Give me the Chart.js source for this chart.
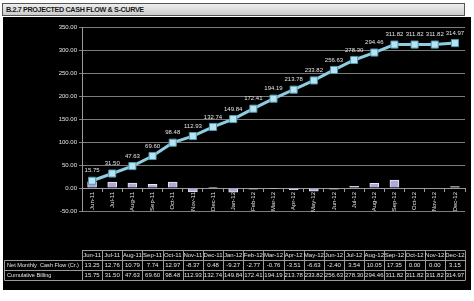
<!DOCTYPE html>
<html>
<head>
<meta charset="utf-8">
<script src="https://cdn.jsdelivr.net/npm/chart.js@4.4.0/dist/chart.umd.min.js"></script>
<style>
  html, body { margin: 0; padding: 0; background: #fff; width: 474px; height: 301px; overflow: hidden; }
  #title {
    position: absolute; left: 2px; top: 3px; width: 458px; height: 11px;
    border: 1px solid #555; background: linear-gradient(#eeeeee, #cccccc);
    font: bold 7.2px "Liberation Sans", Arial, sans-serif; color: #1a1a1a;
    line-height: 11px; padding-left: 3px; letter-spacing: -0.35px;
  }
  #wrap { position: absolute; left: 3px; top: 17px; width: 468px; height: 273px; background: #000; }
</style>
</head>
<body>
<div id="title">B.2.7 PROJECTED CASH FLOW &amp; S-CURVE</div>
<div id="wrap"><canvas id="chart" width="468" height="273"></canvas></div>
<script>
// data
const months = ["Jun-11", "Jul-11", "Aug-11", "Sep-11", "Oct-11", "Nov-11", "Dec-11", "Jan-12", "Feb-12", "Mar-12",
  "Apr-12", "May-12", "Jun-12", "Jul-12", "Aug-12", "Sep-12", "Oct-12", "Nov-12", "Dec-12"];
const netCashFlow = [13.25, 12.76, 10.79, 7.74, 12.97, -8.37, 0.48, -9.27, -2.77, -0.76,
  -3.51, -6.63, -2.40, 3.54, 10.05, 17.35, 0.00, 0.00, 3.15];
const cumulativeBilling = [15.75, 31.50, 47.63, 69.60, 98.48, 112.93, 132.74, 149.84, 172.41, 194.19,
  213.78, 233.82, 256.63, 278.30, 294.46, 311.82, 311.82, 311.82, 314.97];
const rowLabels = ["Net Monthly  Cash Flow (Cr.)", "Cumulative Billing"];
const yMin = -50, yMax = 350, yStep = 50;

const textColor = "#e4e4e4";
const lineFont = '6px "Liberation Sans", Arial, sans-serif';

// value labels above the line points
const pointLabels = {
  id: "pointLabels",
  afterDatasetsDraw(chart) {
    const ctx = chart.ctx;
    const meta = chart.getDatasetMeta(1);
    ctx.save();
    ctx.font = lineFont;
    ctx.fillStyle = textColor;
    ctx.textAlign = "center";
    ctx.textBaseline = "middle";
    meta.data.forEach((pt, i) => {
      ctx.fillText(cumulativeBilling[i].toFixed(2), pt.x, pt.y - 10);
    });
    ctx.restore();
  }
};

// data table under the plot, columns follow the category scale
const dataTable = {
  id: "dataTable",
  afterDraw(chart) {
    const ctx = chart.ctx;
    const x = chart.scales.x;
    const n = months.length;
    const w = (x.right - x.left) / n;
    const rows = [233.5, 243.5, 253.5, 263.5];
    const leftEdge = 1.5;
    ctx.save();
    ctx.strokeStyle = "#9a9a9a";
    ctx.lineWidth = 1;
    ctx.beginPath();
    // horizontal lines
    ctx.moveTo(x.left, rows[0]); ctx.lineTo(x.right, rows[0]);
    for (let r = 1; r < rows.length; r++) {
      ctx.moveTo(leftEdge, rows[r]); ctx.lineTo(x.right, rows[r]);
    }
    // vertical lines
    for (let i = 0; i <= n; i++) {
      const px = Math.round(x.left + i * w) + 0.5;
      ctx.moveTo(px, rows[0]); ctx.lineTo(px, rows[3]);
    }
    ctx.moveTo(leftEdge, rows[1]); ctx.lineTo(leftEdge, rows[3]);
    ctx.stroke();

    ctx.fillStyle = textColor;
    ctx.font = lineFont;
    ctx.textBaseline = "middle";
    ctx.textAlign = "center";
    months.forEach((m, i) => {
      const cx = x.getPixelForValue(i);
      ctx.fillText(m, cx, (rows[0] + rows[1]) / 2);
      ctx.fillText(netCashFlow[i].toFixed(2), cx, (rows[1] + rows[2]) / 2);
      ctx.fillText(cumulativeBilling[i].toFixed(2), cx, (rows[2] + rows[3]) / 2);
    });
    ctx.textAlign = "left";
    ctx.font = '5.6px "Liberation Sans", Arial, sans-serif';
    ctx.fillText(rowLabels[0], 4, (rows[1] + rows[2]) / 2);
    ctx.fillText(rowLabels[1], 4, (rows[2] + rows[3]) / 2);
    ctx.restore();
  }
};

new Chart(document.getElementById("chart"), {
  type: "bar",
  data: {
    labels: months,
    datasets: [
      {
        type: "bar",
        label: rowLabels[0],
        data: netCashFlow,
        backgroundColor: "#b2a8d6",
        borderColor: "#ebe8f7",
        borderWidth: 1,
        barThickness: 9,
        order: 2
      },
      {
        type: "line",
        label: rowLabels[1],
        data: cumulativeBilling,
        borderColor: "#8ecde0",
        borderWidth: 3,
        pointStyle: "rect",
        pointRadius: 5,
        pointBackgroundColor: "#b9e3ef",
        pointBorderColor: "#4f9bb5",
        pointBorderWidth: 1,
        tension: 0,
        order: 1
      }
    ]
  },
  options: {
    responsive: false,
    animation: false,
    devicePixelRatio: 1,
    layout: { padding: { left: 0, right: 1, top: 10, bottom: 79 } },
    plugins: { legend: { display: false }, tooltip: { enabled: false } },
    scales: {
      x: {
        position: { y: 0 },
        offset: true,
        grid: { display: true, drawOnChartArea: false, color: "#9a9a9a", tickLength: 3, offset: true },
        border: { display: true, color: "#9a9a9a" },
        ticks: {
          color: textColor,
          font: { size: 6, family: '"Liberation Sans", Arial, sans-serif' },
          minRotation: 90,
          maxRotation: 90,
          autoSkip: false,
          padding: 1
        },
        afterFit: (scale) => { scale.height = 0; }
      },
      y: {
        min: yMin,
        max: yMax,
        grid: { color: "#7c7c7c", tickLength: 3 },
        border: { display: true, color: "#9a9a9a" },
        ticks: {
          stepSize: yStep,
          color: textColor,
          font: { size: 6, family: '"Liberation Sans", Arial, sans-serif' },
          padding: 2,
          callback: (v) => v.toFixed(2)
        },
        afterFit: (scale) => { scale.width = 79; }
      }
    }
  },
  plugins: [pointLabels, dataTable]
});
</script>
</body>
</html>
